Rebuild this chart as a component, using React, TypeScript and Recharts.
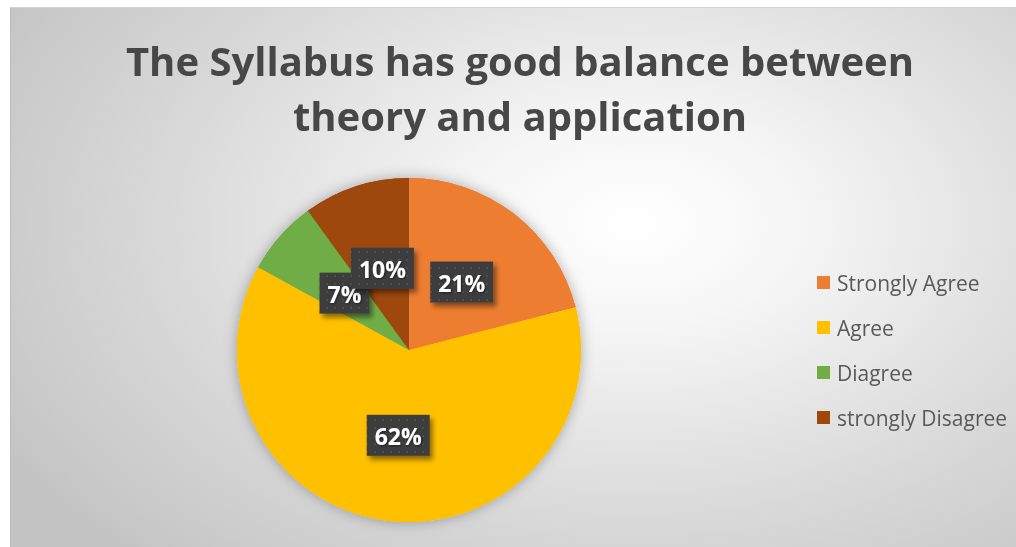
import { PieChart, Pie, Cell, Legend } from 'recharts';

const categories = ['Strongly Agree', 'Agree', 'Diagree', 'strongly Disagree'];
const shares = [21, 62, 7, 10];
const sliceColors = ['#ED7D31', '#FFC000', '#70AD47', '#9E480E'];
const titleLines = ['The Syllabus has good balance between', 'theory and application'];

const data = categories.map((name, i) => ({ name, value: shares[i] }));

const RAD = Math.PI / 180;
const font = '"Open Sans", "Noto Sans", sans-serif';

function renderLabel(props: any) {
  const { cx, cy, midAngle, outerRadius, value } = props;
  const r = outerRadius * 0.5;
  const x = cx + r * Math.cos(-midAngle * RAD);
  const y = cy + r * Math.sin(-midAngle * RAD);
  const text = `${value}%`;
  const w = text.length * 13 + 24;
  const h = 41;
  return (
    <g>
      <rect x={x - w / 2} y={y - h / 2} width={w} height={h} fill="url(#dots)" filter="url(#boxShadow)" />
      <text
        x={x}
        y={y + 1}
        textAnchor="middle"
        dominantBaseline="central"
        fill="#ffffff"
        filter="url(#textShadow)"
        style={{ fontFamily: font, fontSize: 23, fontWeight: 700 }}
      >
        {text}
      </text>
    </g>
  );
}

function LegendList() {
  return (
    <div style={{ fontFamily: font }}>
      {categories.map((c, i) => (
        <div key={c} style={{ display: 'flex', alignItems: 'center', height: 45 }}>
          <span style={{ width: 13, height: 13, background: sliceColors[i], marginRight: 7 }} />
          <span style={{ fontSize: 21, color: '#595959', whiteSpace: 'nowrap' }}>{c}</span>
        </div>
      ))}
    </div>
  );
}

export default function App() {
  return (
    <div style={{ position: 'fixed', left: 0, top: 0, width: 1016, height: 547, background: '#ffffff' }}>
      <div
        style={{
          position: 'absolute',
          left: 10,
          top: 7,
          width: 1006,
          height: 540,
          borderLeft: '1px solid #bdbdbd',
          borderTop: '1px solid #d4d4d4',
          boxSizing: 'border-box',
          background: 'radial-gradient(ellipse 72% 85% at 62% 40%, #ffffff 0%, #f6f6f6 22%, #dcdcdc 60%, #c4c4c4 100%)',
        }}
      >
        <div
          style={{
            position: 'absolute',
            left: 6,
            top: 25,
            width: 1006,
            textAlign: 'center',
            fontFamily: font,
            fontWeight: 700,
            fontSize: 40,
            lineHeight: '55px',
            color: '#474747',
          }}
        >
          {titleLines.map((l) => (
            <div key={l}>{l}</div>
          ))}
        </div>
        <PieChart
          width={1006}
          height={540}
          margin={{ top: 0, right: 0, bottom: 0, left: 0 }}
          style={{ position: 'absolute', left: 0, top: 0 }}
        >
          <defs>
            <pattern id="dots" width="8" height="8" patternUnits="userSpaceOnUse">
              <rect width="8" height="8" fill="#3e3e3e" />
              <circle cx="4" cy="4" r="1" fill="#525252" />
            </pattern>
            <filter id="boxShadow" x="-20%" y="-20%" width="150%" height="160%">
              <feDropShadow dx="3" dy="4" stdDeviation="2.5" floodColor="#000" floodOpacity="0.45" />
            </filter>
            <filter id="textShadow" x="-20%" y="-20%" width="140%" height="140%">
              <feDropShadow dx="1" dy="1" stdDeviation="1" floodColor="#000" floodOpacity="0.5" />
            </filter>
            <filter id="pieShadow" x="-20%" y="-20%" width="140%" height="140%">
              <feDropShadow dx="0" dy="0" stdDeviation="7" floodColor="#000" floodOpacity="0.3" />
            </filter>
          </defs>
          <Pie
            data={data}
            dataKey="value"
            nameKey="name"
            cx={398}
            cy={342}
            outerRadius={172}
            startAngle={90}
            endAngle={-270}
            stroke="none"
            isAnimationActive={false}
            legendType="none"
          >
            {data.map((d, i) => (
              <Cell key={d.name} fill={sliceColors[i]} filter="url(#pieShadow)" />
            ))}
          </Pie>
          <Pie
            data={data}
            dataKey="value"
            nameKey="name"
            cx={398}
            cy={342}
            outerRadius={172}
            startAngle={90}
            endAngle={-270}
            stroke="none"
            isAnimationActive={false}
            label={renderLabel}
            labelLine={false}
          >
            {data.map((d, i) => (
              <Cell key={d.name} fill={sliceColors[i]} />
            ))}
          </Pie>
          <Legend
            layout="vertical"
            align="right"
            verticalAlign="middle"
            content={() => <LegendList />}
            wrapperStyle={{ left: 806, top: 252, width: 200 }}
          />
        </PieChart>
      </div>
    </div>
  );
}
